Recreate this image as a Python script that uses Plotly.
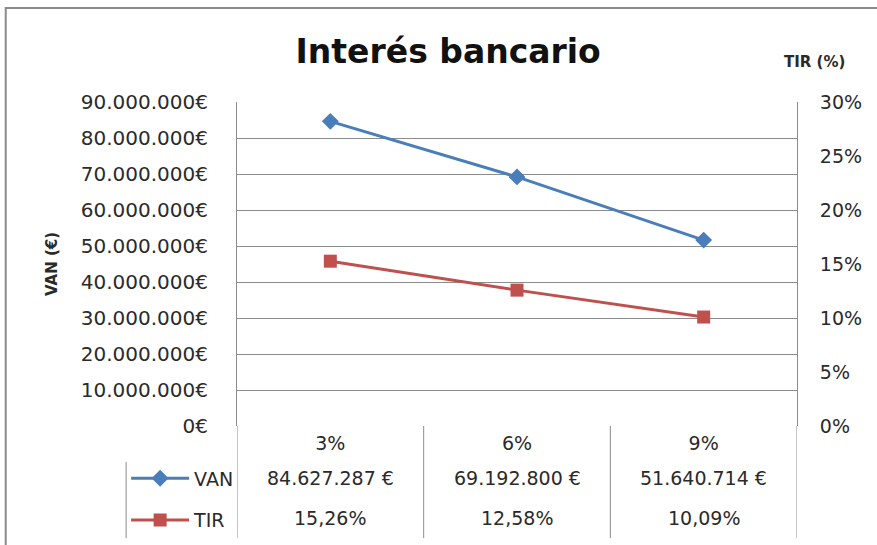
import plotly.graph_objects as go

# Interest-rate scenarios and results
tasas = ["3%", "6%", "9%"]
van = [84627287, 69192800, 51640714]      # VAN in euros
tir = [15.26, 12.58, 10.09]               # TIR in percent

van_ticks_max = 90000000
tir_ticks_max = 30

FONT = "DejaVu Sans"
TXT = "#2a2a2a"
GRID = "#8c8c8c"
BLUE = "#4a7ebb"
RED = "#c0504d"


def fmt_eur(v):
    return f"{v:,.0f}".replace(",", ".") + " €"


def fmt_pct(v):
    return f"{v:.2f}".replace(".", ",") + "%"


fig = go.Figure()
fig.add_trace(go.Scatter(
    x=tasas, y=van, name="VAN", mode="lines+markers",
    line=dict(color=BLUE, width=3),
    marker=dict(symbol="diamond", size=13, color=BLUE),
    yaxis="y", legendgroup="a",
))
fig.add_trace(go.Scatter(
    x=tasas, y=tir, name="TIR", mode="lines+markers",
    line=dict(color=RED, width=3),
    marker=dict(symbol="square", size=13, color=RED),
    yaxis="y2", legendgroup="b",
))

# Data table rows under the plot
row_y = {"VAN": -0.160, "TIR": -0.284}
annotations = []
for t, v in zip(tasas, van):
    annotations.append(dict(x=t, xref="x", y=row_y["VAN"], yref="paper",
                            yanchor="middle", text=fmt_eur(v), showarrow=False,
                            font=dict(family=FONT, size=19, color=TXT)))
for t, v in zip(tasas, tir):
    annotations.append(dict(x=t, xref="x", y=row_y["TIR"], yref="paper",
                            yanchor="middle", text=fmt_pct(v), showarrow=False,
                            font=dict(family=FONT, size=19, color=TXT)))
# Secondary axis title, written horizontally above the axis
annotations.append(dict(x=0.973, xref="paper", y=1.123, yref="paper",
                        text="<b>TIR (%)</b>", showarrow=False,
                        xanchor="left", yanchor="middle",
                        font=dict(family=FONT, size=15, color=TXT)))

# Table grid lines and chart frame
line_style = dict(color="#8c8c8c", width=1)
shapes = []
for xv in [-0.5, 0.5, 1.5, 2.5]:
    shapes.append(dict(type="line", xref="x", yref="paper",
                       x0=xv, x1=xv, y0=0, y1=-0.346, line=line_style))
shapes.append(dict(type="line", xref="paper", yref="paper",
                   x0=-0.198, x1=-0.198, y0=-0.111, y1=-0.346, line=line_style))
shapes.append(dict(type="rect", xref="paper", yref="paper",
                   x0=-0.413, x1=1.2, y0=1.29, y1=-0.5,
                   line=dict(color="#8a8a8a", width=2)))

fig.update_layout(
    width=877, height=545,
    margin=dict(l=237, r=80, t=102, b=119, autoexpand=False),
    paper_bgcolor="white", plot_bgcolor="white",
    separators=",.",
    font=dict(family=FONT, size=19, color=TXT),
    title=dict(text="<b>Interés bancario</b>", x=0.511, xanchor="center",
               y=0.905, yanchor="middle",
               font=dict(family=FONT, size=33, color="#111111")),
    xaxis=dict(type="category", range=[-0.5, 2.5], showgrid=False,
               showline=False, ticks="", ticklabelstandoff=4,
               tickfont=dict(family=FONT, size=19, color=TXT)),
    yaxis=dict(range=[0, van_ticks_max], dtick=10000000,
               tickformat=",.0f", ticksuffix="€",
               showgrid=True, gridcolor=GRID, gridwidth=1,
               showline=True, linecolor="#8c8c8c", linewidth=1,
               zeroline=False, ticks="", ticklabelstandoff=24,
               tickfont=dict(family=FONT, size=20, color=TXT),
               title=dict(text="<b>VAN (€)</b>", standoff=19,
                          font=dict(family=FONT, size=15, color=TXT))),
    yaxis2=dict(range=[0, tir_ticks_max], dtick=5, ticksuffix="%",
                overlaying="y", side="right", showgrid=False,
                showline=True, linecolor="#8c8c8c", linewidth=1,
                zeroline=False, ticks="", ticklabelstandoff=18,
                tickfont=dict(family=FONT, size=19, color=TXT)),
    legend=dict(x=-0.198, y=-0.103, xanchor="left", yanchor="top",
                bgcolor="rgba(0,0,0,0)", tracegroupgap=14,
                font=dict(family=FONT, size=19, color=TXT),
                itemwidth=58),
    showlegend=True,
    annotations=annotations,
    shapes=shapes,
)

fig.write_html("out.html")
